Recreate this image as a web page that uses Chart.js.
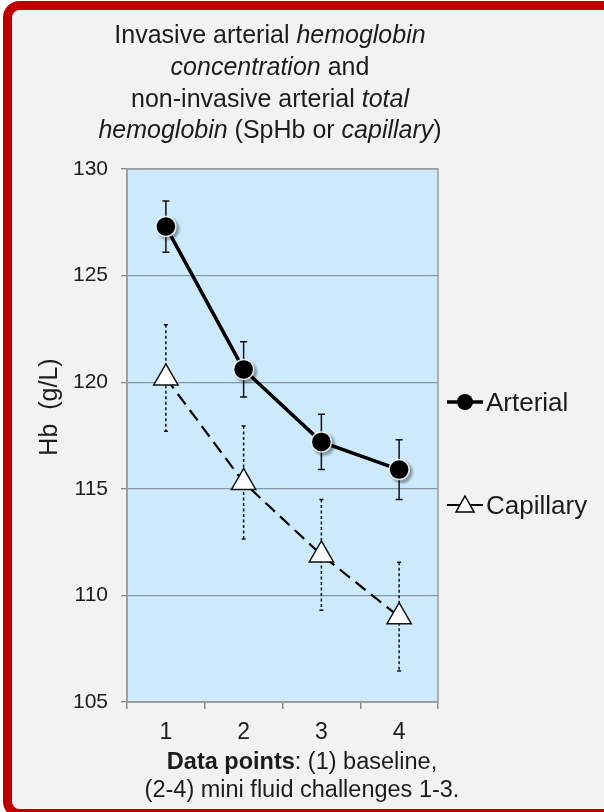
<!DOCTYPE html>
<html>
<head>
<meta charset="utf-8">
<title>Hb arterial vs capillary</title>
<script src="https://cdn.jsdelivr.net/npm/chart.js@4.4.1/dist/chart.umd.min.js"></script>
<style>
  html, body { margin: 0; padding: 0; background: #fff; }
  #wrap { width: 604px; height: 812px; }
</style>
</head>
<body>
<div id="wrap"><canvas id="hbChart" width="604" height="812"></canvas></div>
<script>
// data points: (1) baseline, (2-4) mini fluid challenges
const categories = ['1', '2', '3', '4'];
const arterialHb = [127.3, 120.6, 117.2, 115.9];
const arterialSd = [1.2, 1.3, 1.3, 1.4];
const capillaryHb = [120.2, 115.3, 111.9, 109.0];
const capillarySd = [2.5, 2.65, 2.6, 2.55];
const yMin = 105, yMax = 130, yStep = 5;

const FONT = "'Liberation Sans', Arial, Helvetica, sans-serif";
const INK = '#1c1c1c';

// title / axis-title lines, split in runs: [text, style]
const titleLines = [
  [['Invasive arterial ', ''], ['hemoglobin', 'italic']],
  [['concentration', 'italic'], [' and', '']],
  [['non-invasive arterial ', ''], ['total', 'italic']],
  [['hemoglobin', 'italic'], [' (SpHb or ', ''], ['capillary', 'italic'], [')', '']]
];
const xTitleLines = [
  [['Data points', 'bold'], [': (1) baseline,', '']],
  [['(2-4) mini fluid challenges 1-3.', '']]
];

function drawRuns(ctx, runs, cx, y, size) {
  let total = 0;
  const widths = runs.map(([t, st]) => {
    ctx.font = `${st} ${size}px ${FONT}`;
    const w = ctx.measureText(t).width;
    total += w;
    return w;
  });
  let x = cx - total / 2;
  runs.forEach(([t, st], i) => {
    ctx.font = `${st} ${size}px ${FONT}`;
    ctx.fillText(t, x, y);
    x += widths[i];
  });
}

function roundRect(ctx, x, y, w, h, r) {
  ctx.beginPath();
  ctx.moveTo(x + r, y);
  ctx.lineTo(x + w - r, y);
  ctx.arcTo(x + w, y, x + w, y + r, r);
  ctx.lineTo(x + w, y + h - r);
  ctx.arcTo(x + w, y + h, x + w - r, y + h, r);
  ctx.lineTo(x + r, y + h);
  ctx.arcTo(x, y + h, x, y + h - r, r);
  ctx.lineTo(x, y + r);
  ctx.arcTo(x, y, x + r, y, r);
  ctx.closePath();
}

// grey panel with red frame + light blue plot area
const panel = {
  id: 'panel',
  beforeDraw(chart) {
    const { ctx, chartArea: a } = chart;
    ctx.save();
    ctx.fillStyle = '#ffffff';
    ctx.fillRect(0, 0, chart.width, chart.height);
    roundRect(ctx, 7.5, 5.5, 640, 808, 12);
    ctx.fillStyle = '#f2f2f2';
    ctx.fill();
    ctx.lineWidth = 9;
    ctx.strokeStyle = '#c00000';
    ctx.stroke();
    ctx.fillStyle = '#cceafc';
    ctx.fillRect(a.left, a.top, a.right - a.left, a.bottom - a.top);
    ctx.restore();
  },
  beforeDatasetsDraw(chart) {
    const { ctx, chartArea: a } = chart;
    ctx.save();
    ctx.strokeStyle = '#9a9a9a';
    ctx.lineWidth = 1.5;
    ctx.strokeRect(a.left, a.top, a.right - a.left, a.bottom - a.top);
    ctx.restore();
  }
};

// +/- SD whiskers, drawn under the markers
const errorBars = {
  id: 'errorBars',
  beforeDatasetsDraw(chart) {
    const { ctx, scales: { x, y } } = chart;
    chart.data.datasets.forEach(ds => {
      const sd = ds.errors;
      ctx.save();
      ctx.strokeStyle = '#111';
      ctx.lineWidth = 1.5;
      ds.data.forEach((v, i) => {
        const px = x.getPixelForValue(i);
        const top = y.getPixelForValue(v + sd[i]);
        const bot = y.getPixelForValue(v - sd[i]);
        ctx.setLineDash(ds.errorDash);
        ctx.beginPath();
        ctx.moveTo(px, top);
        ctx.lineTo(px, bot);
        ctx.stroke();
        ctx.setLineDash([]);
        ctx.beginPath();
        ctx.moveTo(px - ds.capWidth, top);
        ctx.lineTo(px + ds.capWidth, top);
        ctx.moveTo(px - ds.capWidth, bot);
        ctx.lineTo(px + ds.capWidth, bot);
        ctx.stroke();
      });
      ctx.restore();
    });
  }
};

// soft drop shadow behind the round markers
const markerShadow = {
  id: 'markerShadow',
  beforeDatasetDraw(chart, args) {
    const ds = chart.data.datasets[args.index];
    if (ds.pointStyle !== 'circle') return;
    const { ctx } = chart;
    ctx.save();
    ctx.fillStyle = 'rgba(0,0,0,0.35)';
    ctx.filter = 'blur(1px)';
    args.meta.data.forEach(pt => {
      ctx.beginPath();
      ctx.arc(pt.x + 2.5, pt.y + 2.5, ds.pointRadius + 1, 0, Math.PI * 2);
      ctx.fill();
    });
    ctx.restore();
  }
};

// title, rotated y title, legend and x title
const texts = {
  id: 'texts',
  afterDraw(chart) {
    const { ctx } = chart;
    ctx.save();
    ctx.fillStyle = INK;
    ctx.textBaseline = 'alphabetic';
    ctx.textAlign = 'left';

    [43, 75, 107, 138].forEach((by, i) => drawRuns(ctx, titleLines[i], 270, by, 25));
    [769, 797].forEach((by, i) => drawRuns(ctx, xTitleLines[i], 302, by, 23.5));

    ctx.save();
    ctx.translate(57, 407);
    ctx.rotate(-Math.PI / 2);
    ctx.font = `25px ${FONT}`;
    ctx.textAlign = 'center';
    ctx.fillText('Hb  (g/L)', 0, 0);
    ctx.restore();

    // legend
    const ds = chart.data.datasets;
    ctx.strokeStyle = '#000';
    // arterial
    ctx.lineWidth = 3.5;
    ctx.beginPath();
    ctx.moveTo(447, 402); ctx.lineTo(483, 402);
    ctx.stroke();
    ctx.fillStyle = '#000';
    ctx.beginPath();
    ctx.arc(465, 402, 8, 0, Math.PI * 2);
    ctx.fill();
    // capillary
    ctx.lineWidth = 2;
    ctx.beginPath();
    ctx.moveTo(447, 505); ctx.lineTo(483, 505);
    ctx.stroke();
    ctx.fillStyle = '#fff';
    ctx.lineWidth = 1.5;
    ctx.beginPath();
    ctx.moveTo(465, 496);
    ctx.lineTo(474, 512);
    ctx.lineTo(456, 512);
    ctx.closePath();
    ctx.fill();
    ctx.stroke();

    ctx.fillStyle = INK;
    ctx.font = `26px ${FONT}`;
    ctx.fillText(ds[0].label, 486, 411);
    ctx.fillText(ds[1].label, 486, 514);
    ctx.restore();
  }
};

new Chart(document.getElementById('hbChart'), {
  type: 'line',
  data: {
    labels: categories,
    datasets: [
      {
        label: 'Arterial',
        data: arterialHb,
        errors: arterialSd,
        errorDash: [],
        capWidth: 3.5,
        borderColor: '#000',
        borderWidth: 3.5,
        pointStyle: 'circle',
        pointRadius: 10,
        pointBackgroundColor: '#000',
        pointBorderColor: 'rgba(255,255,255,0.85)',
        pointBorderWidth: 1.5,
        tension: 0,
        clip: false
      },
      {
        label: 'Capillary',
        data: capillaryHb,
        errors: capillarySd,
        errorDash: [3, 2.5],
        capWidth: 2,
        borderColor: '#000',
        borderWidth: 2.2,
        borderDash: [13, 7],
        pointStyle: 'triangle',
        pointRadius: 14,
        pointBackgroundColor: '#fff',
        pointBorderColor: '#111',
        pointBorderWidth: 1.5,
        tension: 0,
        clip: false
      }
    ]
  },
  options: {
    responsive: false,
    devicePixelRatio: 1,
    animation: false,
    events: [],
    layout: { padding: { top: 169, right: 166, left: 0, bottom: 0 } },
    plugins: {
      legend: { display: false },
      title: { display: false },
      tooltip: { enabled: false }
    },
    scales: {
      x: {
        type: 'category',
        offset: true,
        grid: { offset: true, drawOnChartArea: false, tickLength: 7, color: '#8a8a8a', lineWidth: 1.5 },
        border: { color: '#9a9a9a', width: 1.5 },
        ticks: { font: { family: FONT, size: 23 }, color: INK, padding: 10 },
        afterFit(scale) { scale.height = 110; }
      },
      y: {
        min: yMin,
        max: yMax,
        ticks: { stepSize: yStep, font: { family: FONT, size: 21 }, color: INK, padding: 13 },
        grid: { color: '#8597a3', lineWidth: 1.3, tickLength: 6, tickColor: '#8a8a8a' },
        border: { color: '#9a9a9a', width: 1.5 },
        afterFit(scale) { scale.width = 127; }
      }
    }
  },
  plugins: [panel, errorBars, markerShadow, texts]
});
</script>
</body>
</html>
